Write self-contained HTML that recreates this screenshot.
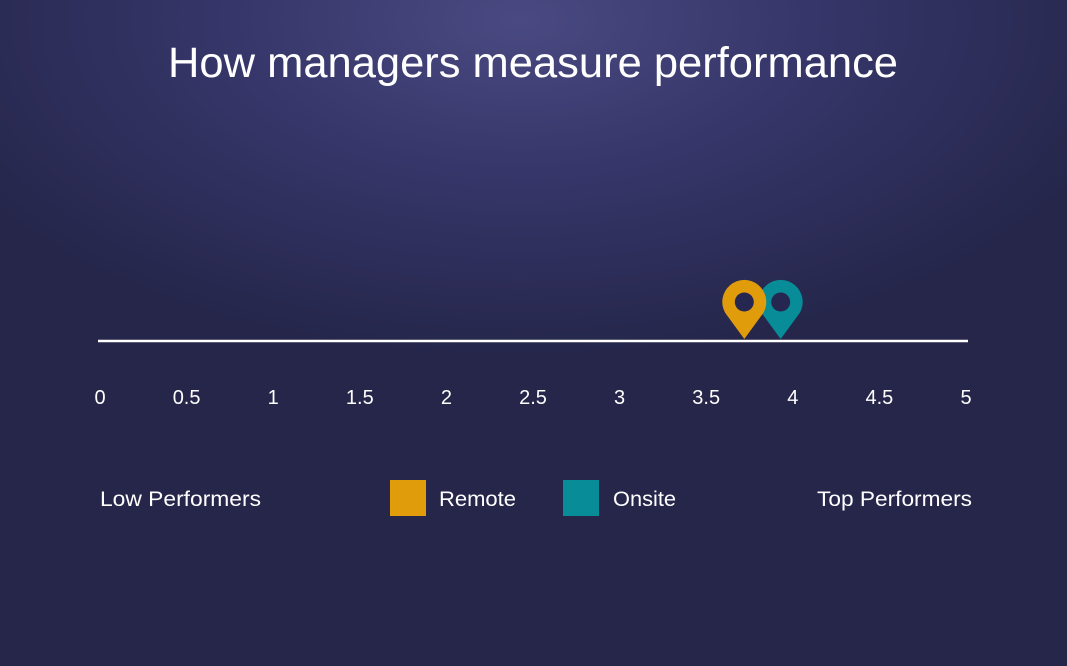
<!DOCTYPE html>
<html><head><meta charset="utf-8"><style>
html,body{margin:0;padding:0}
body{width:1067px;height:666px;overflow:hidden;font-family:"Liberation Sans",sans-serif;
background:radial-gradient(ellipse 640px 340px at 520px 20px,#4a4a82 0%,#36366a 45%,#25264a 100%);background-color:#23244a}
</style></head><body>
<svg width="1067" height="666" style="position:absolute;left:0;top:0">
<text x="533" y="77" text-anchor="middle" fill="#fff" font-size="43" textLength="730" lengthAdjust="spacingAndGlyphs">How managers measure performance</text>
<line x1="98" y1="341" x2="968" y2="341" stroke="#fff" stroke-width="2.5"/>
<g id="ticks"></g>
<g id="pins"></g>
<text x="100" y="506" fill="#fff" font-size="21" textLength="161" lengthAdjust="spacingAndGlyphs">Low Performers</text>
<text x="817" y="506" fill="#fff" font-size="21" textLength="155" lengthAdjust="spacingAndGlyphs">Top Performers</text>
<rect x="390" y="480" width="36" height="36" fill="#e09c0b"/>
<text x="439" y="506" fill="#fff" font-size="21" textLength="77" lengthAdjust="spacingAndGlyphs">Remote</text>
<rect x="563" y="480" width="36" height="36" fill="#078c98"/>
<text x="613" y="506" fill="#fff" font-size="21" textLength="63" lengthAdjust="spacingAndGlyphs">Onsite</text>
</svg>
<script>
const tickLabels=["0","0.5","1","1.5","2","2.5","3","3.5","4","4.5","5"];
const tickValues=[0,0.5,1,1.5,2,2.5,3,3.5,4,4.5,5];
const seriesNames=["Onsite","Remote"];
const seriesValues=[3.93,3.72];
const seriesColors=["#078c98","#e09c0b"];
const x=v=>100+v*(866/5);
const NS="http://www.w3.org/2000/svg";
const tg=document.getElementById('ticks');
tickValues.forEach((v,i)=>{
  const t=document.createElementNS(NS,'text');
  
  
  t.setAttribute('x',x(v));t.setAttribute('y',404);
  t.setAttribute('text-anchor','middle');t.setAttribute('fill','#fff');t.setAttribute('font-size','20');
  t.textContent=tickLabels[i];tg.appendChild(t);
});
const pg=document.getElementById('pins');
seriesValues.forEach((v,i)=>{
  const cx=x(v),tip=339,cy=302,r=22;
  const g=document.createElementNS(NS,'g');
  
  
  const p=document.createElementNS(NS,'path');
  p.setAttribute('d',`M${cx} ${tip} L${cx-19} ${cy+11} A${r} ${r} 0 1 1 ${cx+19} ${cy+11} Z`);
  p.setAttribute('fill',seriesColors[i]);
  const c=document.createElementNS(NS,'circle');
  c.setAttribute('cx',cx);c.setAttribute('cy',cy);c.setAttribute('r',9.5);c.setAttribute('fill','#262750');
  g.appendChild(p);g.appendChild(c);pg.appendChild(g);
});
</script>
</body></html>
